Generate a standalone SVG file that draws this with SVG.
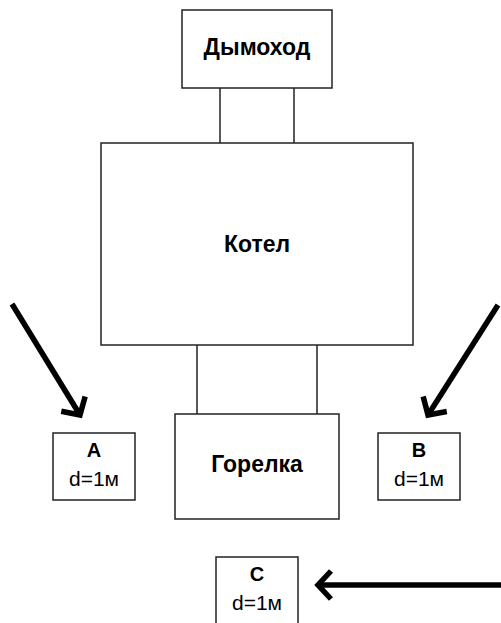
<svg xmlns="http://www.w3.org/2000/svg" width="501" height="623" viewBox="0 0 501 623">
  <style>
    .box { fill: #fff; stroke: #222; stroke-width: 1.5; }
    .link { stroke: #222; stroke-width: 1.5; fill: none; }
    .title { font-family: "Liberation Sans", Arial, sans-serif; font-weight: bold; font-size: 23px; text-anchor: middle; fill: #000; }
    .tag { font-family: "Liberation Sans", Arial, sans-serif; font-weight: bold; font-size: 20px; text-anchor: middle; fill: #000; }
    .dist { font-family: "Liberation Sans", Arial, sans-serif; font-size: 21px; text-anchor: middle; fill: #000; }
    .arrow { stroke: #000; stroke-width: 5.5; fill: none; marker-end: url(#chevron); }
  </style>
  <defs>
    <marker id="chevron" markerUnits="userSpaceOnUse" viewBox="-25 -25 50 50" markerWidth="50" markerHeight="50" refX="0" refY="0" orient="auto" overflow="visible">
      <path d="M-13,-14 L0,0 L-13,14" fill="none" stroke="#000" stroke-width="5.5" stroke-linejoin="miter"/>
    </marker>
  </defs>

  <rect width="501" height="623" fill="#fff"/>

  <!-- connectors: flue pipes and burner neck, then pointer arrows -->
  <g id="connectors">
    <line class="link" x1="220" y1="88" x2="220" y2="143"/>
    <line class="link" x1="294" y1="88" x2="294" y2="143"/>
    <line class="link" x1="197" y1="345" x2="197" y2="414"/>
    <line class="link" x1="317" y1="345" x2="317" y2="414"/>
    <line class="arrow" x1="12" y1="304" x2="80" y2="415"/>
    <line class="arrow" x1="498" y1="305" x2="428" y2="415"/>
    <line class="arrow" x1="501" y1="585" x2="318" y2="585"/>
  </g>

  <g id="chimney">
    <rect class="box" x="182" y="10" width="150" height="78"/>
    <text class="title" x="257" y="55">Дымоход</text>
  </g>

  <g id="boiler">
    <rect class="box" x="101" y="143" width="312" height="202"/>
    <text class="title" x="257" y="252">Котел</text>
  </g>

  <g id="burner">
    <rect class="box" x="175" y="414" width="164" height="105"/>
    <text class="title" x="257" y="472">Горелка</text>
  </g>

  <g id="point-a">
    <rect class="box" x="53" y="433" width="82" height="67"/>
    <text class="tag" x="94" y="457">A</text>
    <text class="dist" x="94" y="486">d=1м</text>
  </g>

  <g id="point-b">
    <rect class="box" x="378" y="433" width="82" height="67"/>
    <text class="tag" x="419" y="457">B</text>
    <text class="dist" x="419" y="486">d=1м</text>
  </g>

  <g id="point-c">
    <rect class="box" x="216" y="557" width="82" height="80"/>
    <text class="tag" x="257" y="581">C</text>
    <text class="dist" x="257" y="610">d=1м</text>
  </g>
</svg>
